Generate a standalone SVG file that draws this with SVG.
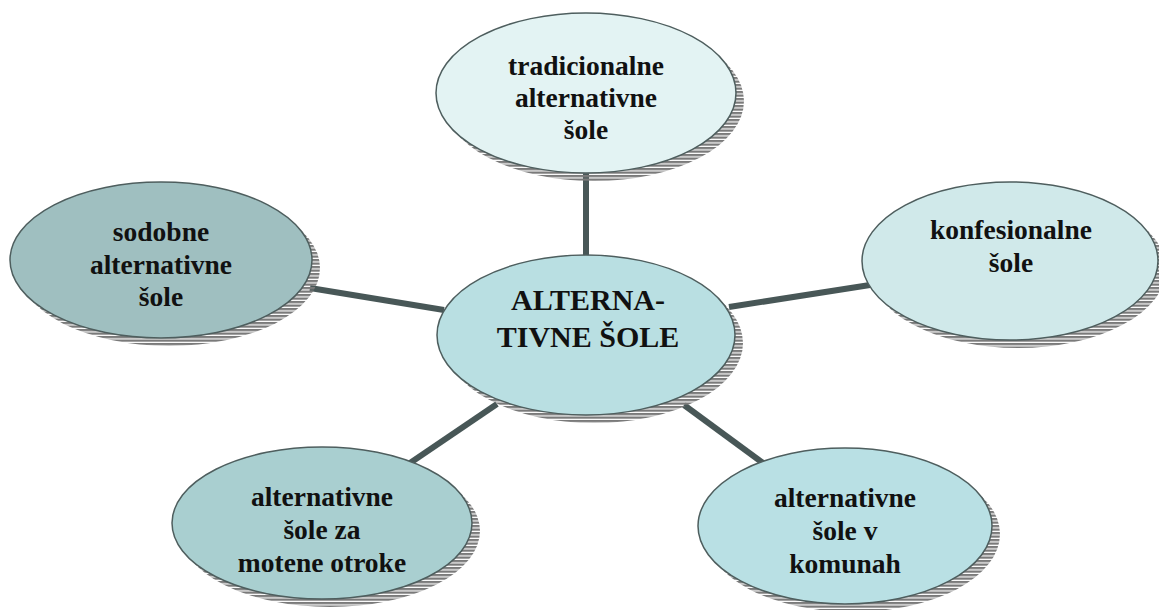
<svg xmlns="http://www.w3.org/2000/svg" width="1159" height="610" viewBox="0 0 1159 610">
<defs>
<pattern id="hatch" patternUnits="userSpaceOnUse" width="4" height="3.5">
<rect x="0" y="0" width="4" height="2.3" fill="#7a7a7a"/>
</pattern>
<style>
.sh{fill:url(#hatch);stroke:none}
.el{stroke:#4e5e5e;stroke-width:1.5}
.con{stroke:#485757;stroke-width:6;fill:none}
text{font-family:"Liberation Serif","DejaVu Serif",serif;font-weight:bold;fill:#111;text-anchor:middle}
.t{font-size:27.5px}
.c{font-size:30px}
</style>
</defs>
<rect width="1159" height="610" fill="#ffffff"/>
<g id="connectors">
<line class="con" x1="586" y1="172" x2="586" y2="256"/>
<line class="con" x1="310" y1="288" x2="444" y2="310"/>
<line class="con" x1="729" y1="307" x2="870" y2="285"/>
<line class="con" x1="497" y1="404" x2="410" y2="463"/>
<line class="con" x1="684" y1="405" x2="763" y2="463"/>
</g>
<g id="n-top">
<ellipse class="sh" cx="594" cy="101" rx="150" ry="80"/>
<ellipse class="el" cx="586" cy="93" rx="150" ry="80" fill="#e3f3f3"/>
<text class="t" x="586" y="75">tradicionalne</text>
<text class="t" x="586" y="107">alternativne</text>
<text class="t" x="586" y="139">šole</text>
</g>
<g id="n-left">
<ellipse class="sh" cx="169" cy="268" rx="151" ry="78"/>
<ellipse class="el" cx="161" cy="260" rx="151" ry="78" fill="#9fbfc0"/>
<text class="t" x="161" y="241">sodobne</text>
<text class="t" x="161" y="274">alternativne</text>
<text class="t" x="161" y="306">šole</text>
</g>
<g id="n-right">
<ellipse class="sh" cx="1018" cy="269" rx="148" ry="79"/>
<ellipse class="el" cx="1010" cy="261" rx="148" ry="79" fill="#d0e9ea"/>
<text class="t" x="1011" y="239">konfesionalne</text>
<text class="t" x="1011" y="272">šole</text>
</g>
<g id="n-bl">
<ellipse class="sh" cx="330" cy="531" rx="150" ry="76"/>
<ellipse class="el" cx="322" cy="523" rx="150" ry="76" fill="#a9cfd0"/>
<text class="t" x="322" y="506">alternativne</text>
<text class="t" x="322" y="539">šole za</text>
<text class="t" x="322" y="572">motene otroke</text>
</g>
<g id="n-br">
<ellipse class="sh" cx="853" cy="534" rx="147" ry="78"/>
<ellipse class="el" cx="845" cy="526" rx="147" ry="78" fill="#b9e0e4"/>
<text class="t" x="845" y="507">alternativne</text>
<text class="t" x="845" y="540">šole v</text>
<text class="t" x="845" y="573">komunah</text>
</g>
<g id="n-center">
<ellipse class="sh" cx="594" cy="343" rx="149" ry="80"/>
<ellipse class="el" cx="586" cy="335" rx="149" ry="80" fill="#b9dfe2"/>
<text class="c" x="588" y="310">ALTERNA-</text>
<text class="c" x="588" y="347">TIVNE ŠOLE</text>
</g>
</svg>
